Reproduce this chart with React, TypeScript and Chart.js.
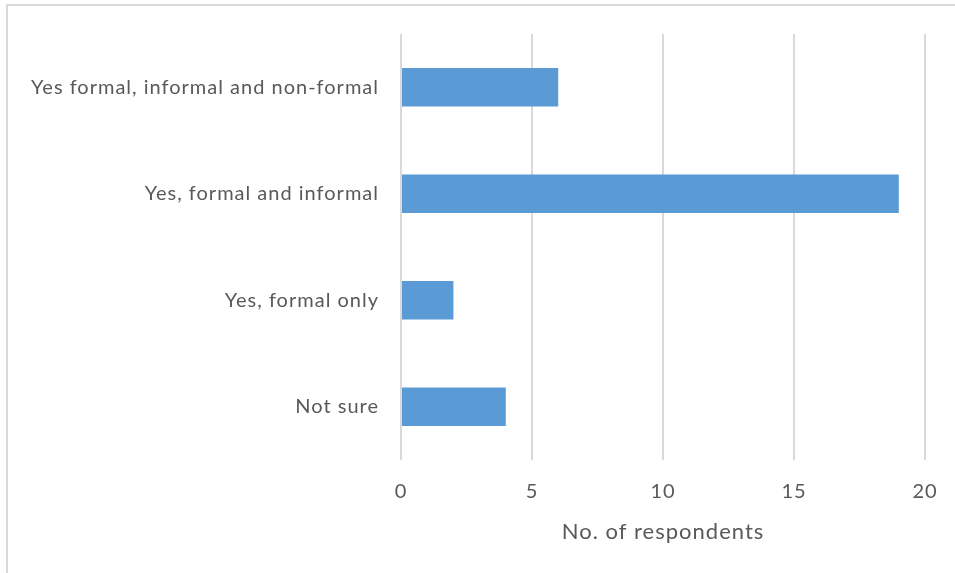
import React, { useEffect, useRef } from "react";
import { Chart, registerables } from "chart.js";

Chart.register(...registerables);

const categories = [
  "Yes formal, informal and non-formal",
  "Yes, formal and informal",
  "Yes, formal only",
  "Not sure",
];
const respondents = [6, 19, 2, 4];
const xTicks = [0, 5, 10, 15, 20];
const axisTitle = "No. of respondents";

const letterSpacingPlugin = {
  id: "letterSpacing",
  beforeLayout(chart: any) {
    chart.ctx.letterSpacing = "1px";
  },
  beforeDraw(chart: any) {
    chart.ctx.letterSpacing = "1px";
  },
};

export default function App() {
  const ref = useRef<HTMLCanvasElement | null>(null);

  useEffect(() => {
    if (!ref.current) return;
    const family = "Lato, 'Open Sans', sans-serif";
    const font = { family, size: 20 };
    const chart = new Chart(ref.current, {
      type: "bar",
      data: {
        labels: categories,
        datasets: [
          {
            data: respondents,
            backgroundColor: "#5b9bd5",
            borderWidth: 0,
            barPercentage: 0.36,
            categoryPercentage: 1,
          },
        ],
      },
      plugins: [letterSpacingPlugin],
      options: {
        indexAxis: "y",
        animation: false,
        responsive: true,
        maintainAspectRatio: false,
        layout: { padding: { top: 34, right: 30, left: 0, bottom: 0 } },
        plugins: {
          legend: { display: false },
          tooltip: { enabled: false },
        },
        scales: {
          y: {
            grid: { display: false },
            border: { display: false },
            ticks: { color: "#595959", font, padding: 14 },
            afterFit: (s: any) => {
              s.width = 401;
            },
          },
          x: {
            min: xTicks[0],
            max: xTicks[xTicks.length - 1],
            afterBuildTicks: (s: any) => {
              s.ticks = xTicks.map((v) => ({ value: v }));
            },
            grid: { color: "#d9d9d9", lineWidth: 2, drawTicks: false },
            border: { display: false },
            ticks: { color: "#595959", font, padding: 20 },
            title: {
              display: true,
              text: axisTitle,
              color: "#595959",
              font: { family, size: 22 },
              padding: { top: 0, bottom: 28 },
            },
            afterFit: (s: any) => {
              s.height = 113;
              s.paddingRight = 0;
              s.paddingLeft = 0;
            },
          },
        },
      },
    });
    return () => chart.destroy();
  }, []);

  return (
    <div
      style={{
        position: "absolute",
        left: 0,
        top: 0,
        width: 955,
        height: 573,
        background: "#fff",
        overflow: "hidden",
      }}
    >
      <div
        style={{
          position: "absolute",
          left: 6,
          top: 4,
          width: 1000,
          height: 1000,
          borderTop: "2px solid #d9d9d9",
          borderLeft: "2px solid #d9d9d9",
        }}
      />
      <div style={{ position: "absolute", left: 0, top: 0, width: 955, height: 573 }}>
        <canvas ref={ref} />
      </div>
    </div>
  );
}
